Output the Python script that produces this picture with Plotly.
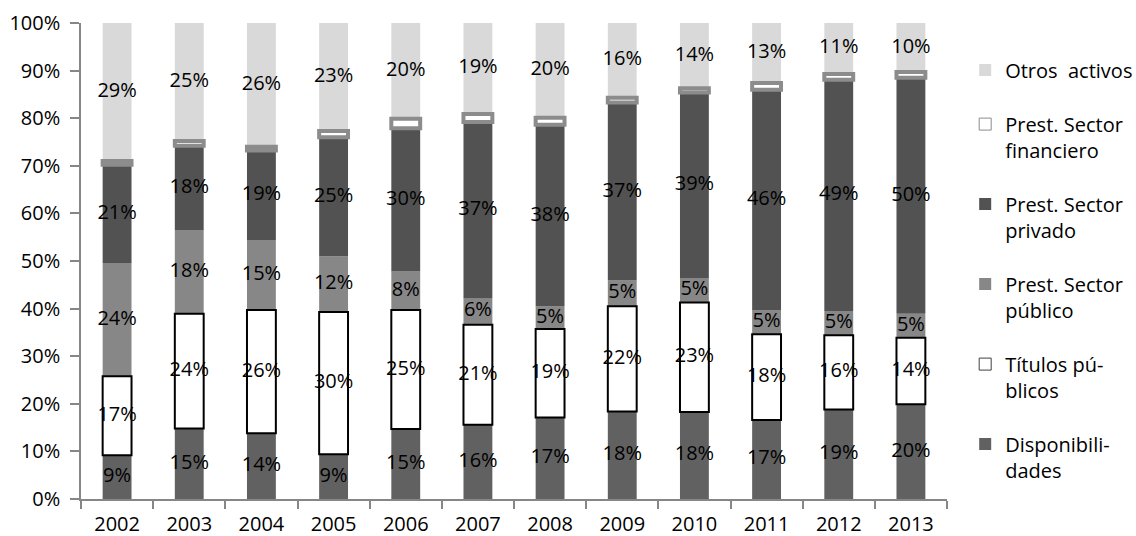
import numpy as np
import plotly.graph_objects as go

# Composición del activo (% del total), por año
years = ["2002", "2003", "2004", "2005", "2006", "2007",
         "2008", "2009", "2010", "2011", "2012", "2013"]
disponibilidades = [9.2, 14.8, 13.8, 9.4, 14.7, 15.6, 17.1, 18.4, 18.3, 16.6, 18.8, 19.9]
titulos_publicos = [16.6, 24.1, 25.9, 29.9, 25.0, 21.0, 18.6, 22.1, 23.0, 18.0, 15.6, 14.0]
prest_publico = [23.8, 17.6, 14.7, 11.7, 8.1, 5.6, 4.8, 5.4, 5.1, 5.0, 5.1, 5.0]
prest_privado = [20.6, 17.7, 18.8, 25.0, 30.1, 37.0, 38.1, 37.4, 39.0, 46.4, 48.6, 49.6]
prest_financiero = [0.8, 1.0, 0.8, 1.3, 2.0, 1.7, 1.5, 1.0, 0.9, 1.4, 1.2, 1.2]
otros_activos = [29.0, 24.8, 26.0, 22.7, 20.1, 19.1, 19.9, 15.7, 13.7, 12.6, 10.7, 10.3]

FONT = "Open Sans"
FS = 20

# stacking order (bottom to top):
# name, values, fill, border colour, border width, labelled, legend rank, legend border
series = [
    ("Disponibili-<br>dades", disponibilidades, "#616161", None, 0, True, 6, None),
    ("Títulos pú-<br>blicos", titulos_publicos, "#ffffff", "#000000", 2, True, 5, "#404040"),
    ("Prest. Sector<br>público", prest_publico, "#878787", None, 0, True, 4, None),
    ("Prest. Sector<br>privado", prest_privado, "#525252", None, 0, True, 3, None),
    ("Prest. Sector<br>financiero", prest_financiero, "#ffffff", "#8c8c8c", 4, False, 2, "#8c8c8c"),
    ("Otros  activos", otros_activos, "#d9d9d9", None, 0, True, 1, None),
]

vals = np.array([s[1] for s in series], dtype=float)
bases = np.vstack([np.zeros(len(years)), np.cumsum(vals, axis=0)[:-1]])

# outlined segments are drawn last so their borders stay visible
draw_order = [0, 2, 3, 5, 1, 4]

fig = go.Figure()
for i in draw_order:
    name, v, fill, lcol, lw, labelled, rank, _ = series[i]
    fig.add_trace(go.Bar(
        x=years, y=v, base=bases[i], name=name,
        marker=dict(color=fill,
                    line=dict(color=lcol if lcol else fill, width=lw)),
        showlegend=False,
        hovertemplate="%{x}: %{y:.0f}%<extra></extra>",
    ))

# legend entries with thin symbol outlines
for name, v, fill, lcol, lw, labelled, rank, lgcol in series:
    fig.add_trace(go.Bar(
        x=[None], y=[None], name=name,
        marker=dict(color=fill,
                    line=dict(color=lgcol if lgcol else fill, width=1 if lgcol else 0)),
        legendrank=rank, legendgroup=str(rank), showlegend=True,
        hoverinfo="skip",
    ))

# value labels centred on each labelled segment
lx, ly, lt = [], [], []
for i, s in enumerate(series):
    if not s[5]:
        continue
    for j, yr in enumerate(years):
        lx.append(yr)
        ly.append(bases[i][j] + vals[i][j] / 2)
        lt.append(f"{vals[i][j]:.0f}%")
fig.add_trace(go.Scatter(
    x=lx, y=ly, text=lt, mode="text",
    textfont=dict(family=FONT, size=FS, color="#000000"),
    showlegend=False, hoverinfo="skip",
))

axis_col = "#868686"
fig.update_layout(
    width=1136, height=536,
    margin=dict(l=81, r=189, t=23, b=37, autoexpand=False),
    paper_bgcolor="white", plot_bgcolor="white",
    barmode="overlay", bargap=0.6,
    font=dict(family=FONT, size=FS, color="#000000"),
    xaxis=dict(
        type="category", tickson="boundaries", categoryorder="array",
        categoryarray=years, range=[-0.5, len(years) - 0.5],
        showline=True, linecolor=axis_col, linewidth=1.5,
        ticks="outside", ticklen=8, tickcolor=axis_col, tickwidth=1.5,
        ticklabelstandoff=6, showgrid=False, zeroline=False, automargin=False,
    ),
    yaxis=dict(
        range=[0, 100], dtick=10, ticksuffix="%",
        showline=True, linecolor=axis_col, linewidth=1.5,
        ticks="outside", ticklen=9, tickcolor=axis_col, tickwidth=1.5,
        ticklabelstandoff=6, showgrid=False, zeroline=False, automargin=False,
    ),
    legend=dict(
        x=1.021, xanchor="left", y=0.942, yanchor="top",
        traceorder="grouped", tracegroupgap=25, valign="top",
        font=dict(family=FONT, size=FS, color="#000000"),
        bgcolor="rgba(0,0,0,0)", itemclick=False,
    ),
    showlegend=True,
)

fig.write_html("out.html")
